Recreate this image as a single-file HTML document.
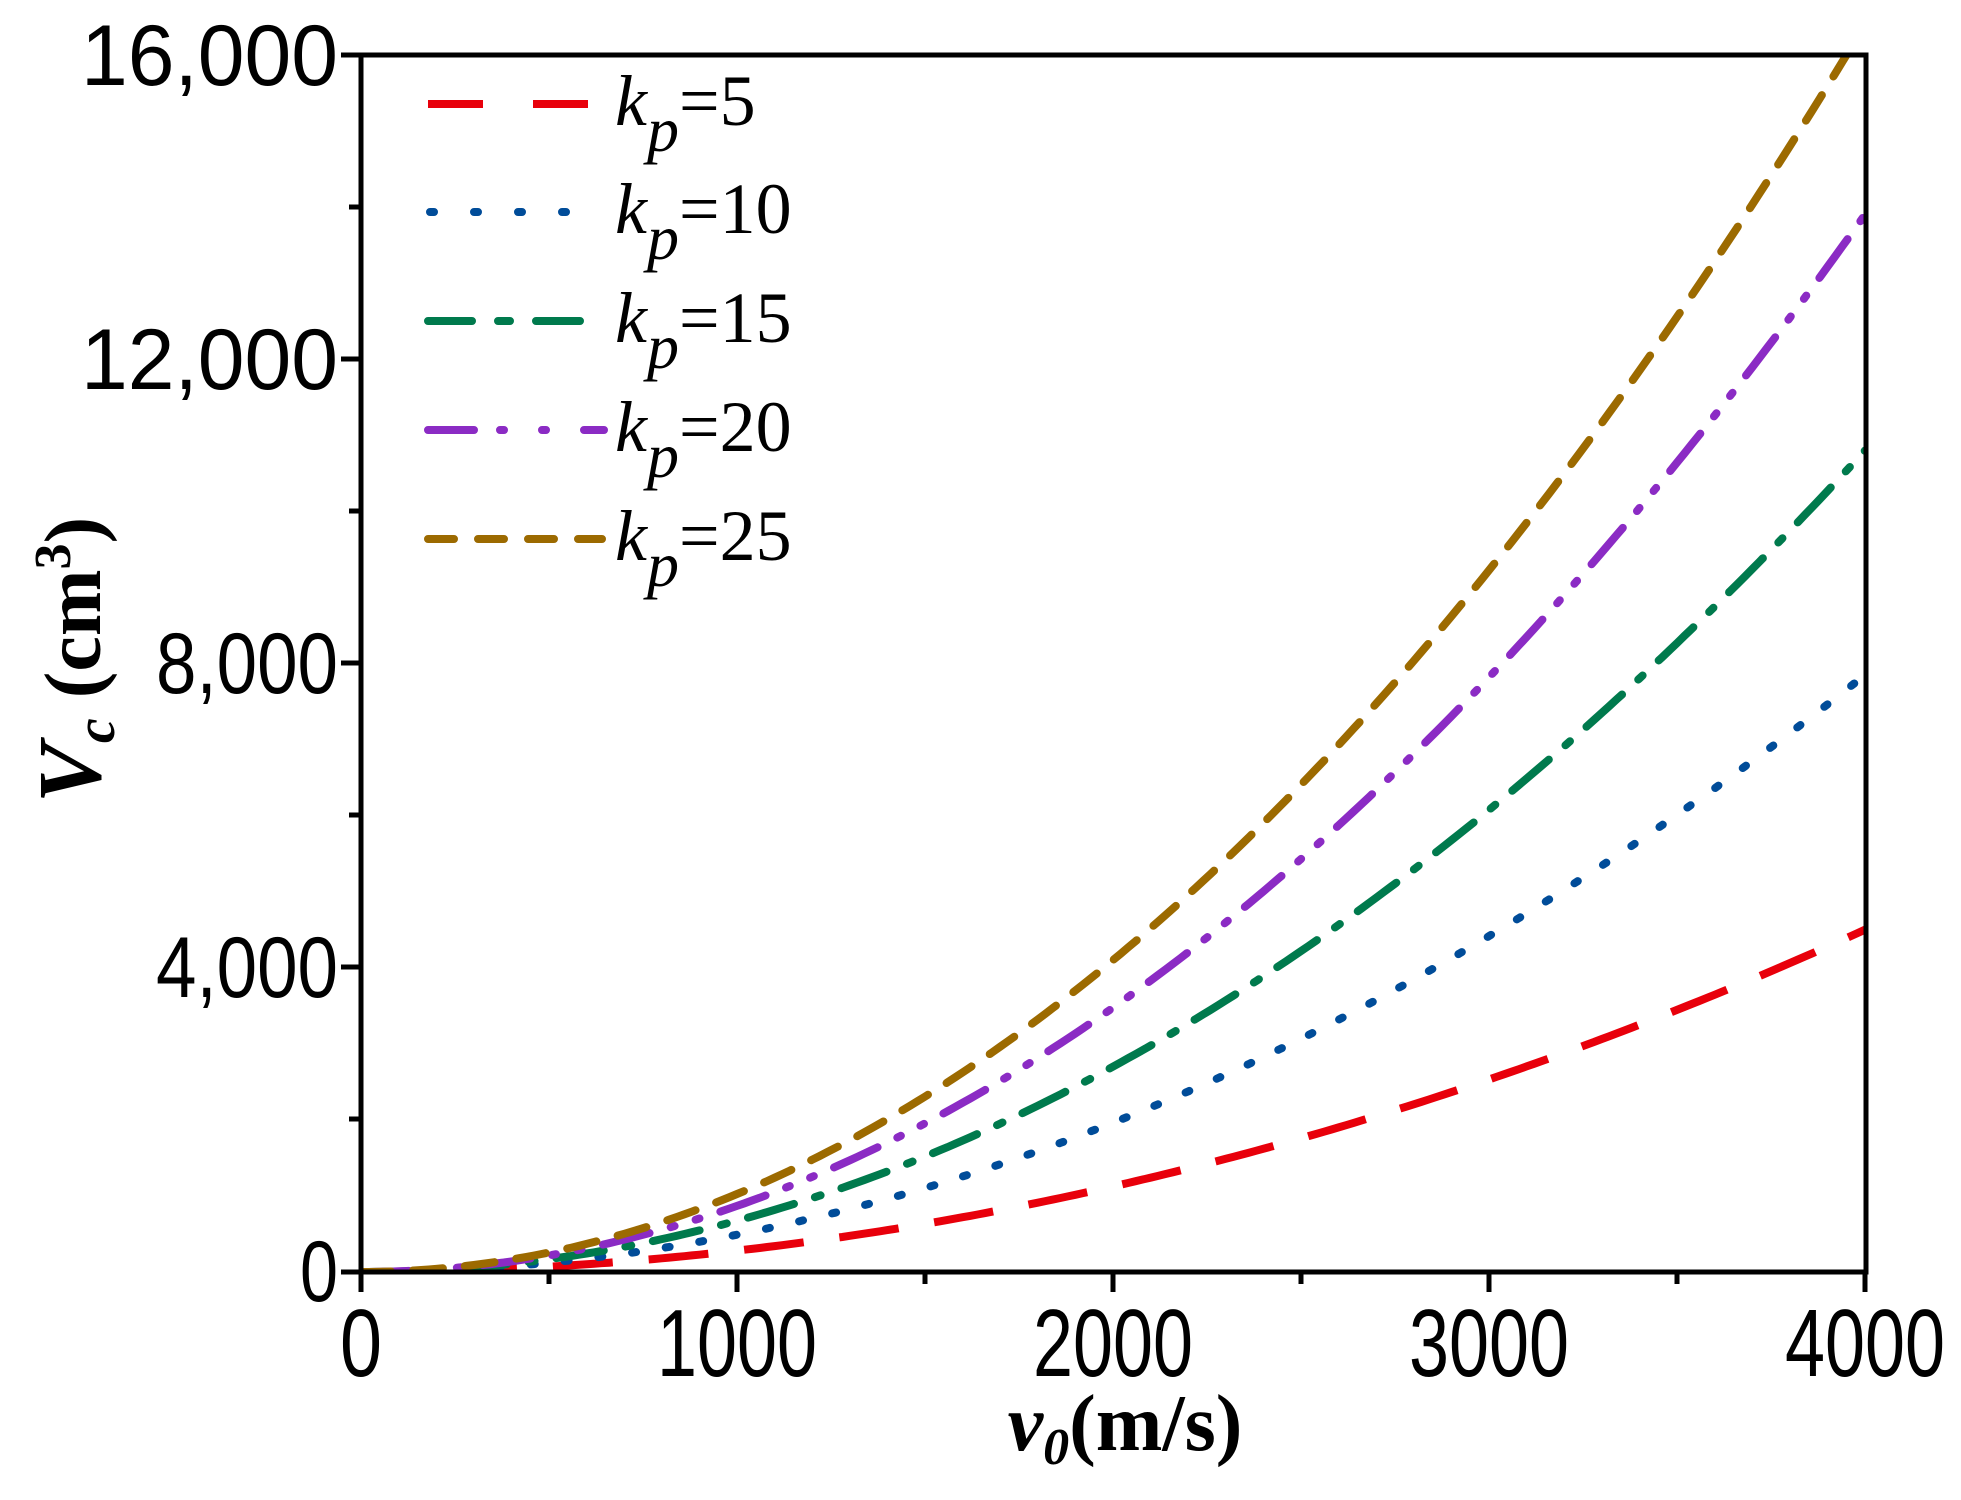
<!DOCTYPE html>
<html><head><meta charset="utf-8"><style>
html,body{margin:0;padding:0;background:#fff;}
svg{display:block;}
.tk{font-family:"Liberation Sans",sans-serif;font-size:86px;fill:#000;}
.lg{font-family:"Liberation Serif",serif;font-size:72px;fill:#000;}
.tt{font-family:"Liberation Serif",serif;font-size:80px;font-weight:bold;fill:#000;}
</style></head><body>
<svg width="1961" height="1500" viewBox="0 0 1961 1500" xmlns="http://www.w3.org/2000/svg">
<defs><clipPath id="c"><rect x="361" y="55" width="1505" height="1217"/></clipPath></defs>
<g clip-path="url(#c)" fill="none" stroke-width="8" stroke-linecap="round">
<path id="p5" stroke="#e8000b" stroke-dasharray="60,36" stroke-linecap="butt"/>
<path id="p10" stroke="#004c99" stroke-dasharray="4,30"/>
<path id="p15" stroke="#007a4d" stroke-dasharray="48,22,6,22"/>
<path id="p20" stroke="#8b2bc4" stroke-dasharray="48,22,4,22,4,22"/>
<path id="p25" stroke="#9c6a00" stroke-dasharray="30,22"/>
</g>
<g stroke="#000" stroke-width="5" fill="none">
<rect x="361" y="55" width="1505" height="1217"/>
<path d="M361 55h-20M361 359h-20M361 663h-20M361 967h-20M361 1272h-20M361 207h-12M361 511h-12M361 815h-12M361 1119h-12"/>
<path d="M361 1272v20M737 1272v20M1113 1272v20M1489 1272v20M1865 1272v20M549 1272v12M925 1272v12M1301 1272v12M1677 1272v12"/>
</g>
<g class="tk" text-anchor="end">
<text x="338" y="85" textLength="257" lengthAdjust="spacingAndGlyphs">16,000</text>
<text x="338" y="389" textLength="257" lengthAdjust="spacingAndGlyphs">12,000</text>
<text x="338" y="693" textLength="182" lengthAdjust="spacingAndGlyphs">8,000</text>
<text x="338" y="997" textLength="182" lengthAdjust="spacingAndGlyphs">4,000</text>
<text x="338" y="1301" textLength="38" lengthAdjust="spacingAndGlyphs">0</text>
</g>
<g class="tk" text-anchor="middle" style="font-size:96px">
<text x="361" y="1376" textLength="42" lengthAdjust="spacingAndGlyphs">0</text>
<text x="737" y="1376" textLength="160" lengthAdjust="spacingAndGlyphs">1000</text>
<text x="1113" y="1376" textLength="160" lengthAdjust="spacingAndGlyphs">2000</text>
<text x="1489" y="1376" textLength="160" lengthAdjust="spacingAndGlyphs">3000</text>
<text x="1865" y="1376" textLength="160" lengthAdjust="spacingAndGlyphs">4000</text>
</g>
<text class="tt" x="1125" y="1450" text-anchor="middle"><tspan font-style="italic">v</tspan><tspan font-style="italic" font-size="52" dy="14">0</tspan><tspan dy="-14">(m/s)</tspan></text>
<text class="tt" transform="translate(100,660) rotate(-90)" text-anchor="middle"><tspan font-style="italic" font-size="90">V</tspan><tspan font-style="italic" font-size="56" dy="14">c</tspan><tspan dy="-14"> (cm</tspan><tspan font-size="52" dy="-30">3</tspan><tspan dy="30">)</tspan></text>
<g stroke-width="8" fill="none">
<path d="M428 104H588" stroke="#e8000b" stroke-dasharray="55,50" stroke-linecap="butt"/>
<path d="M430 212H590" stroke="#004c99" stroke-dasharray="4,40" stroke-linecap="round"/>
<path d="M428 321H604" stroke="#007a4d" stroke-dasharray="44,26,12,26" stroke-linecap="round"/>
<path d="M428 430H604" stroke="#8b2bc4" stroke-dasharray="46,26,4,38,4,38" stroke-linecap="round"/>
<path d="M428 539H602" stroke="#9c6a00" stroke-dasharray="26,24" stroke-linecap="round"/>
</g>
<g class="lg">
<text x="615" y="125"><tspan font-style="italic">k</tspan><tspan font-style="italic" font-size="64" dy="26">p</tspan><tspan dy="-26">=5</tspan></text>
<text x="615" y="233"><tspan font-style="italic">k</tspan><tspan font-style="italic" font-size="64" dy="26">p</tspan><tspan dy="-26">=10</tspan></text>
<text x="615" y="342"><tspan font-style="italic">k</tspan><tspan font-style="italic" font-size="64" dy="26">p</tspan><tspan dy="-26">=15</tspan></text>
<text x="615" y="451"><tspan font-style="italic">k</tspan><tspan font-style="italic" font-size="64" dy="26">p</tspan><tspan dy="-26">=20</tspan></text>
<text x="615" y="560"><tspan font-style="italic">k</tspan><tspan font-style="italic" font-size="64" dy="26">p</tspan><tspan dy="-26">=25</tspan></text>
</g>
<script>
const cs={p5:4500,p10:7850,p15:10800,p20:13900,p25:16400};
for(const id in cs){let d="";for(let i=0;i<=200;i++){const v=i*20;const V=cs[id]*(v/4000)**2;const x=361+v*0.376;const y=1272-V*0.0760625;d+=(i?"L":"M")+x.toFixed(1)+" "+y.toFixed(1);}document.getElementById(id).setAttribute("d",d);}
</script>
</svg>
</body></html>
